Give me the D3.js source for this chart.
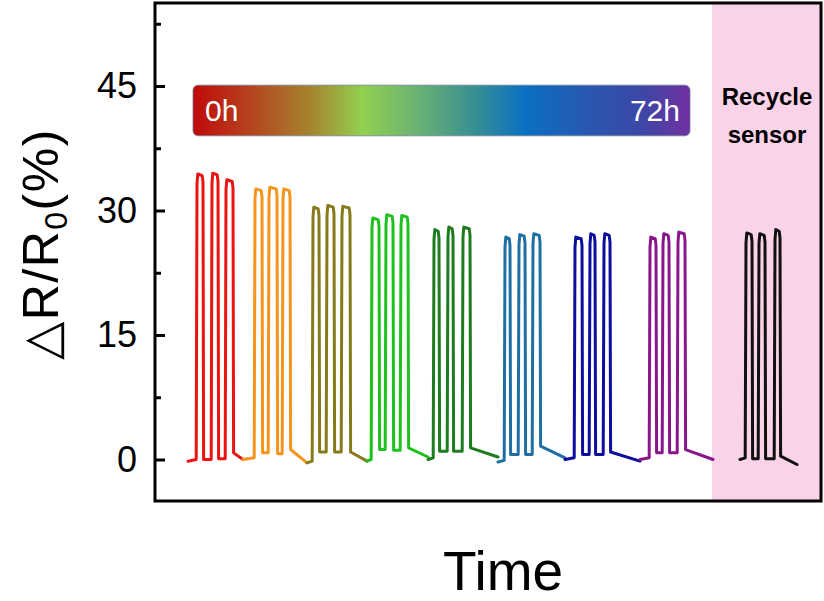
<!DOCTYPE html>
<html>
<head>
<meta charset="utf-8">
<script src="https://cdn.jsdelivr.net/npm/d3@7"></script>
<style>
  body { margin: 0; background: #fff; }
  svg { display: block; }
</style>
</head>
<body>
<svg width="824" height="601"></svg>
<script>
// response of the sensor over 72h, then the recycled sensor
// each segment = three loading pulses (time in s, response in %)
const segColors = ["#ee1313", "#f7941d", "#857a1c", "#1ec21e", "#1e7b1e", "#1f6fa5", "#0e0e9c", "#8a168c", "#111111"];
const startT = [33, 88, 152, 212, 273, 343, 410, 485, 585];
const endT = [88, 152, 212, 273, 343, 410, 485, 558, 642];
const riseT = [
  [42, 57, 71], [100, 114, 128], [158, 172, 187], [217, 231, 246], [279, 293, 308],
  [350, 364, 378], [420, 435, 449], [495, 508, 523], [591, 604, 620],
];
const fallT = [
  [48, 63, 78], [107, 122, 135], [164, 179, 195], [224, 238, 253], [284, 298, 315],
  [355, 370, 385], [427, 440, 455], [501, 514, 530], [597, 610, 625],
];
const peaks = [
  [34.4, 34.5, 33.7], [32.6, 32.8, 32.6], [30.4, 30.6, 30.5], [29.1, 29.5, 29.4], [27.7, 28.0, 28.0],
  [26.8, 27.1, 27.2], [26.8, 27.2, 27.2], [26.8, 27.2, 27.4], [27.3, 27.2, 27.7],
];
const baseStart = [-0.2, 0.0, -0.4, -0.2, 0.0, -0.3, 0.0, 0.0, 0.0];
const dips = [
  [0.0, 0.1], [0.8, 0.7], [0.9, 0.9], [1.2, 1.1], [1.0, 1.0],
  [0.6, 0.6], [0.6, 0.6], [0.8, 0.8], [0.1, 0.1],
];
const afterFall = [0.8, 1.2, 0.9, 1.4, 1.4, 1.6, 0.9, 1.2, 0.4];
const baseEnd = [0.0, -0.4, -0.2, 0.3, 0.3, 0.2, -0.2, 0.0, -0.6];

// axis ticks
const majorTicks = [0, 15, 30, 45];
const minorTicks = [7.5, 22.5, 37.5, 52.5];

// annotations
const recycleT = [557, 666];
const barT = [38, 535];
const barV = [45.1, 39.0];
const gradStops = [
  [0, "#c00a0a"], [0.12, "#b4461f"], [0.24, "#a5862f"], [0.34, "#92d050"],
  [0.45, "#6bb272"], [0.56, "#3a9190"], [0.67, "#0a6fc2"], [0.8, "#2a56b0"],
  [0.9, "#3b48a6"], [1, "#7030a0"],
];

const svg = d3.select("svg");
const margin = { left: 155, top: 3, right: 3, bottom: 100 };
const width = 824 - margin.left - margin.right;
const height = 601 - margin.top - margin.bottom;
const font = "'Liberation Sans', Arial, sans-serif";

const graf = svg.append("g").attr("transform", `translate(${margin.left},${margin.top})`);

const x = d3.scaleLinear().domain([0, 666]).range([0, width]);
const y = d3.scaleLinear().domain([-5, 55]).range([height, 0]);

// pink recycle zone
graf.append("rect")
  .attr("x", x(recycleT[0]))
  .attr("y", 0)
  .attr("width", x(recycleT[1]) - x(recycleT[0]))
  .attr("height", height)
  .attr("fill", "#fbd3e8");

// building the trace of one segment from the read values
const buildTrace = (i) => {
  const pts = [[startT[i], baseStart[i]]];
  riseT[i].forEach((r, k) => {
    const f = fallT[i][k];
    const p = peaks[i][k];
    const low = k === 0 ? baseStart[i] + 0.2 : dips[i][k - 1];
    pts.push([r - 0.8, low]);
    pts.push([r, p - 1.2]);
    pts.push([r + 0.8, p]);
    pts.push([f - 0.8, p - 0.2]);
    pts.push([f, p - 1.0]);
    if (k < 2) {
      pts.push([f + 0.6, dips[i][k]]);
    } else {
      pts.push([f + 0.6, afterFall[i]]);
    }
  });
  pts.push([endT[i], baseEnd[i]]);
  return pts;
};

const line = d3.line()
  .x((d) => x(d[0]))
  .y((d) => y(d[1]));

graf.append("g")
  .selectAll("path")
  .data(segColors)
  .enter()
  .append("path")
  .attr("d", (d, i) => line(buildTrace(i)))
  .attr("fill", "none")
  .attr("stroke", (d) => d)
  .attr("stroke-width", 3)
  .attr("stroke-linejoin", "round")
  .attr("stroke-linecap", "round");

// gradient bar 0h -> 72h
const grad = svg.append("defs").append("linearGradient").attr("id", "timeGrad");
grad.selectAll("stop")
  .data(gradStops)
  .enter()
  .append("stop")
  .attr("offset", (d) => d[0])
  .attr("stop-color", (d) => d[1]);

graf.append("rect")
  .attr("x", x(barT[0]))
  .attr("y", y(barV[0]))
  .attr("width", x(barT[1]) - x(barT[0]))
  .attr("height", y(barV[1]) - y(barV[0]))
  .attr("rx", 5)
  .attr("fill", "url(#timeGrad)")
  .attr("stroke", "#6d7f96")
  .attr("stroke-width", 0.8);

const barMid = (y(barV[0]) + y(barV[1])) / 2;
graf.append("text")
  .text("0h")
  .attr("x", x(barT[0]) + 12)
  .attr("y", barMid + 11)
  .attr("fill", "#fff")
  .attr("font-size", 30)
  .attr("font-family", font);
graf.append("text")
  .text("72h")
  .attr("x", x(barT[1]) - 10)
  .attr("y", barMid + 11)
  .attr("text-anchor", "end")
  .attr("fill", "#fff")
  .attr("font-size", 30)
  .attr("font-family", font);

// recycle label
const recText = graf.append("text")
  .attr("text-anchor", "middle")
  .attr("font-size", 24)
  .attr("font-weight", "bold")
  .attr("font-family", font);
recText.append("tspan").attr("x", x(612)).attr("y", 102).text("Recycle");
recText.append("tspan").attr("x", x(612)).attr("y", 140).text("sensor");

// y axis, ticks pointing inside
const yAxis = graf.append("g")
  .call(d3.axisLeft(y).tickValues(majorTicks).tickSize(-10).tickPadding(18));
yAxis.select(".domain").remove();
yAxis.selectAll("line").attr("stroke", "#000").attr("stroke-width", 3);
yAxis.selectAll("text")
  .attr("font-size", 36)
  .attr("font-family", font)
  .attr("fill", "#000");

const yMinor = graf.append("g")
  .call(d3.axisLeft(y).tickValues(minorTicks).tickSize(-6).tickFormat(""));
yMinor.select(".domain").remove();
yMinor.selectAll("line").attr("stroke", "#000").attr("stroke-width", 3);

// frame
graf.append("rect")
  .attr("width", width)
  .attr("height", height)
  .attr("fill", "none")
  .attr("stroke", "#000")
  .attr("stroke-width", 3);

// axis titles
const yTitle = svg.append("text")
  .attr("transform", "translate(58,244) rotate(-90)")
  .attr("text-anchor", "middle")
  .attr("font-size", 50)
  .attr("letter-spacing", 1.5)
  .attr("font-family", font)
  .attr("fill", "#000");
yTitle.append("tspan").text("\u25B3R/R");
yTitle.append("tspan").text("0").attr("font-size", 32).attr("dy", 9);
yTitle.append("tspan").text("(%)").attr("dy", -9);

svg.append("text")
  .text("Time")
  .attr("x", 503)
  .attr("y", 590)
  .attr("text-anchor", "middle")
  .attr("font-size", 55)
  .attr("font-family", font)
  .attr("fill", "#000");
</script>
</body>
</html>
